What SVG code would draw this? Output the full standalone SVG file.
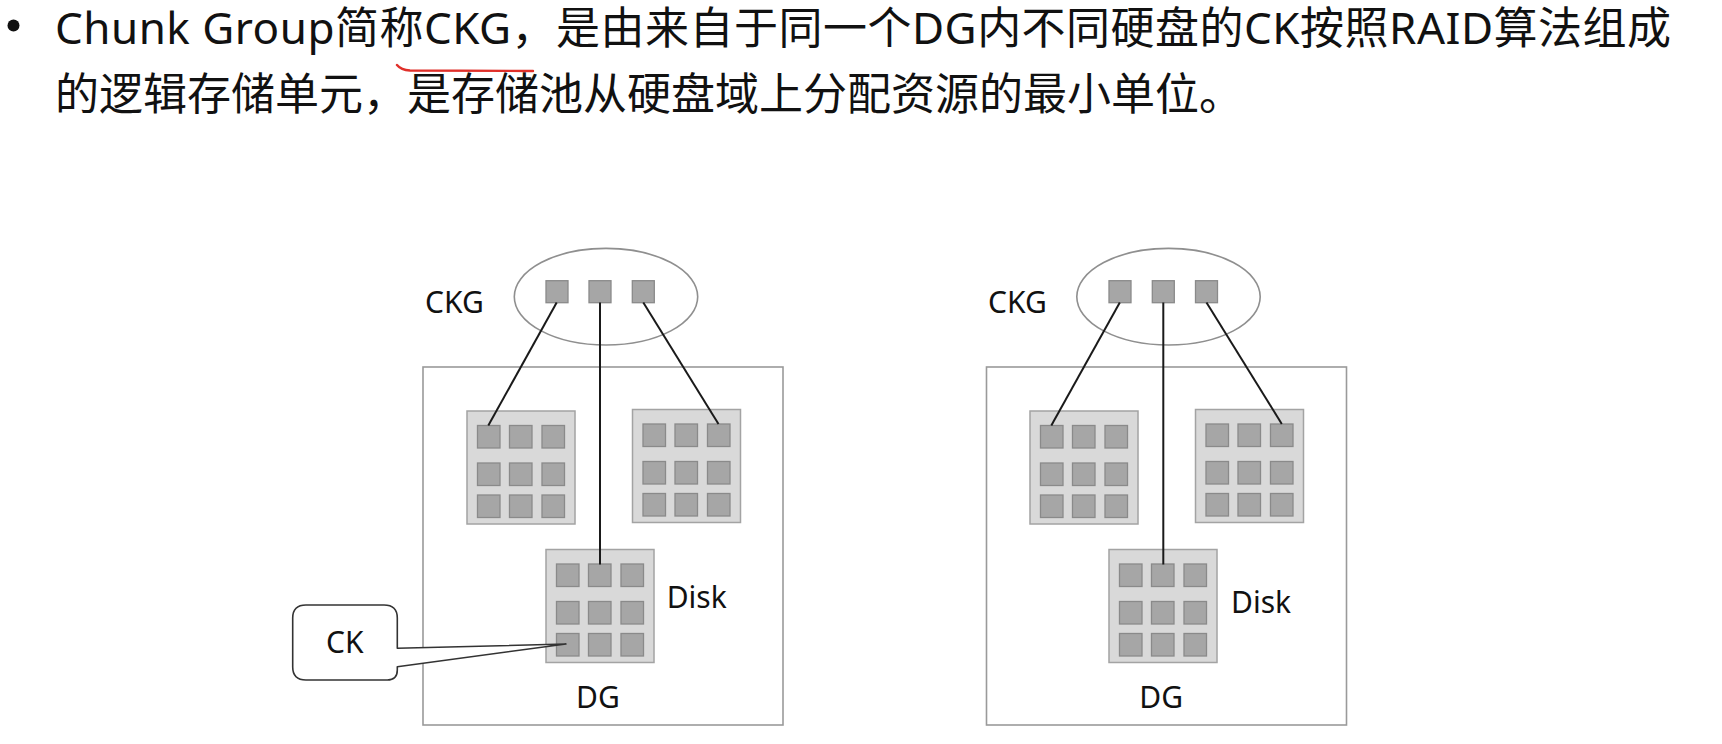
<svg xmlns="http://www.w3.org/2000/svg" xmlns:xlink="http://www.w3.org/1999/xlink" width="1722" height="744" viewBox="0 0 1722 744">
<style>
  .hdr { font-family: 'Noto Sans', 'Noto Sans CJK SC', sans-serif; font-size: 44px; fill: #111; }
  .lbl { font-family: 'Noto Sans', 'Open Sans', sans-serif; font-size: 30px; fill: #111; }
  .dg { fill: #fff; stroke: #9a9a9a; stroke-width: 1.6; }
  .ell { fill: none; stroke: #8f8f8f; stroke-width: 1.6; }
  .ck { fill: #a6a6a6; stroke: #8a8a8a; stroke-width: 1.3; }
  .diskbg { fill: #d9d9d9; stroke: #a3a3a3; stroke-width: 1.5; }
  .conn { stroke: #1a1a1a; stroke-width: 2; fill: none; }
  .callout { fill: #fff; stroke: #333; stroke-width: 1.6; stroke-linejoin: round; }
</style>
<defs>
  <g id="disk">
    <rect class="diskbg" x="0" y="0" width="108" height="113"/>
    <rect class="ck" x="10.5" y="14.5" width="22.5" height="22.5"/>
    <rect class="ck" x="42.5" y="14.5" width="22.5" height="22.5"/>
    <rect class="ck" x="75" y="14.5" width="22.5" height="22.5"/>
    <rect class="ck" x="10.5" y="52" width="22.5" height="22.5"/>
    <rect class="ck" x="42.5" y="52" width="22.5" height="22.5"/>
    <rect class="ck" x="75" y="52" width="22.5" height="22.5"/>
    <rect class="ck" x="10.5" y="84" width="22.5" height="22.5"/>
    <rect class="ck" x="42.5" y="84" width="22.5" height="22.5"/>
    <rect class="ck" x="75" y="84" width="22.5" height="22.5"/>
  </g>
</defs>
<rect width="1722" height="744" fill="#fff"/>

<g id="header">
  <circle cx="13.5" cy="25.5" r="6" fill="#111"/>
  <text class="hdr" x="55" y="44" textLength="1616" lengthAdjust="spacing">Chunk Group简称CKG，是由来自于同一个DG内不同硬盘的CK按照RAID算法组成</text>
  <text class="hdr" x="55" y="110" textLength="1188" lengthAdjust="spacing">的逻辑存储单元，是存储池从硬盘域上分配资源的最小单位。</text>
  <path d="M397,65 Q401,70 410,70.5 L533,71" fill="none" stroke="#e0302a" stroke-width="2.4" stroke-linecap="round"/>
</g>

<!-- Left diagram -->
<g id="dg-left">
  <rect class="dg" x="423" y="367" width="360" height="358"/>
  <text class="lbl" x="576" y="708">DG</text>
</g>
<g id="ckg-left">
  <ellipse class="ell" cx="606" cy="296.7" rx="91.7" ry="48.3"/>
  <rect class="ck" x="546" y="280.7" width="22" height="22"/>
  <rect class="ck" x="589" y="280.7" width="22" height="22"/>
  <rect class="ck" x="632.3" y="280.7" width="22" height="22"/>
  <text class="lbl" x="425" y="312.7">CKG</text>
</g>
<g id="disk-left-1"><use xlink:href="#disk" x="467" y="411"/></g>
<g id="disk-left-2"><use xlink:href="#disk" x="632.5" y="409.5"/></g>
<g id="disk-left-3">
  <use xlink:href="#disk" x="546" y="549.5"/>
  <text class="lbl" x="666.7" y="608.3">Disk</text>
</g>

<!-- Right diagram -->
<g id="dg-right">
  <rect class="dg" x="986.5" y="367" width="360" height="358"/>
  <text class="lbl" x="1139.3" y="708">DG</text>
</g>
<g id="ckg-right">
  <ellipse class="ell" cx="1168.5" cy="296.7" rx="91.7" ry="48.3"/>
  <rect class="ck" x="1109" y="280.7" width="22" height="22"/>
  <rect class="ck" x="1152.3" y="280.7" width="22" height="22"/>
  <rect class="ck" x="1195.5" y="280.7" width="22" height="22"/>
  <text class="lbl" x="988" y="312.7">CKG</text>
</g>
<g id="disk-right-1"><use xlink:href="#disk" x="1030" y="411"/></g>
<g id="disk-right-2"><use xlink:href="#disk" x="1195.5" y="409.5"/></g>
<g id="disk-right-3">
  <use xlink:href="#disk" x="1109" y="549.5"/>
  <text class="lbl" x="1231" y="613.3">Disk</text>
</g>

<g id="connectors">
  <line class="conn" x1="556.7" y1="302.5" x2="488.3" y2="425.5"/>
  <line class="conn" x1="600" y1="302.5" x2="600" y2="564.5"/>
  <line class="conn" x1="643.3" y1="302.5" x2="718.5" y2="424"/>
  <line class="conn" x1="1119.8" y1="302.5" x2="1051.3" y2="425.5"/>
  <line class="conn" x1="1163.3" y1="302.5" x2="1163.3" y2="564.5"/>
  <line class="conn" x1="1206.5" y1="302.5" x2="1281.8" y2="424"/>
</g>

<g id="ck-callout">
  <path class="callout" d="M306,605 H384 Q397.3,605 397.3,618 V648.3 L566,644 L397.3,666.7 V670 Q397.3,680 387.3,680 H306 Q292.7,680 292.7,667 V618 Q292.7,605 306,605 Z"/>
  <text class="lbl" x="326" y="653">CK</text>
</g>
</svg>
